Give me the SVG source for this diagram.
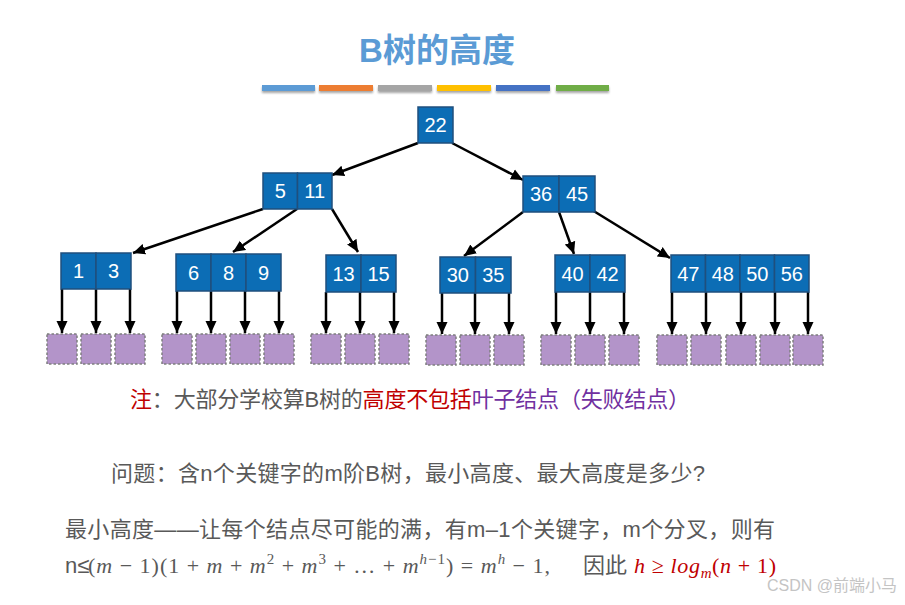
<svg xmlns="http://www.w3.org/2000/svg" width="905" height="605" viewBox="0 0 905 605">
<style>
.cell{fill:#0c6db5;stroke:#1f4f7d;stroke-width:1.5}
.key{font-family:"Liberation Sans",Arial,sans-serif;font-size:20px;fill:#ffffff;text-anchor:middle}
.leaf{fill:#b394c9;stroke:#7f7f7f;stroke-width:1.5;stroke-dasharray:2.5 2}
.edge{stroke:#000;stroke-width:2.5;fill:none;marker-end:url(#ah)}
.txt{font-family:"Liberation Sans","Noto Sans CJK SC",sans-serif;font-size:22px;fill:#595959}
.math{font-family:"Liberation Serif","Times New Roman",serif;font-size:22px;fill:#595959}
.i{font-style:italic}
.sup{font-size:15px}
.red{fill:#c00000}
.purple{fill:#7030a0}
</style>
<defs>
<marker id="ah" markerUnits="userSpaceOnUse" markerWidth="12" markerHeight="12" viewBox="0 0 12 12" refX="12" refY="6" orient="auto">
<path d="M0,0.5 L12,6 L0,11.5 z" fill="#000"/>
</marker>
<filter id="sh" x="-10%" y="-50%" width="120%" height="250%">
<feDropShadow dx="0" dy="2" stdDeviation="1" flood-color="#000" flood-opacity="0.35"/>
</filter>
</defs>

<g id="title">
<text x="437" y="62" text-anchor="middle" font-family="'Liberation Sans','Noto Sans CJK SC',sans-serif" font-size="33" font-weight="bold" fill="#5b9bd5">B树的高度</text>
<g filter="url(#sh)">
<rect x="262" y="85" width="53" height="6" fill="#5b9bd5"/>
<rect x="319" y="85" width="54" height="6" fill="#ed7d31"/>
<rect x="378" y="85" width="54" height="6" fill="#a5a5a5"/>
<rect x="437" y="85" width="54" height="6" fill="#ffc000"/>
<rect x="496" y="85" width="54" height="6" fill="#4472c4"/>
<rect x="556" y="85" width="53" height="6" fill="#70ad47"/>
</g>
</g>

<g id="connectors">
<line class="edge" x1="418" y1="143" x2="332" y2="175"/>
<line class="edge" x1="452" y1="143" x2="523" y2="180"/>
<line class="edge" x1="263" y1="209" x2="133" y2="253"/>
<line class="edge" x1="297" y1="209" x2="233" y2="252"/>
<line class="edge" x1="332" y1="209" x2="358" y2="252"/>
<line class="edge" x1="523" y1="212" x2="464" y2="256"/>
<line class="edge" x1="559" y1="212" x2="574" y2="254"/>
<line class="edge" x1="592" y1="210" x2="670" y2="258"/>
<line class="edge" x1="62" y1="289" x2="62" y2="333"/>
<line class="edge" x1="96" y1="289" x2="96" y2="333"/>
<line class="edge" x1="130" y1="289" x2="130" y2="333"/>
<line class="edge" x1="177" y1="291" x2="177" y2="333"/>
<line class="edge" x1="211" y1="291" x2="211" y2="333"/>
<line class="edge" x1="245" y1="291" x2="245" y2="333"/>
<line class="edge" x1="279" y1="291" x2="279" y2="333"/>
<line class="edge" x1="326" y1="292" x2="326" y2="333"/>
<line class="edge" x1="360" y1="292" x2="360" y2="333"/>
<line class="edge" x1="394" y1="292" x2="394" y2="333"/>
<line class="edge" x1="442" y1="293" x2="442" y2="334"/>
<line class="edge" x1="475" y1="293" x2="475" y2="334"/>
<line class="edge" x1="509" y1="293" x2="509" y2="334"/>
<line class="edge" x1="556" y1="292" x2="556" y2="334"/>
<line class="edge" x1="590" y1="292" x2="590" y2="334"/>
<line class="edge" x1="624" y1="292" x2="624" y2="334"/>
<line class="edge" x1="672" y1="292" x2="672" y2="334"/>
<line class="edge" x1="706" y1="292" x2="706" y2="334"/>
<line class="edge" x1="741" y1="292" x2="741" y2="334"/>
<line class="edge" x1="775" y1="292" x2="775" y2="334"/>
<line class="edge" x1="808" y1="292" x2="808" y2="334"/>
</g>

<g id="n22"><rect class="cell" x="418" y="107" width="35" height="36"/><text class="key" x="435.5" y="132">22</text></g>
<g id="n5_11">
<rect class="cell" x="263" y="173" width="34.5" height="36"/><text class="key" x="280.25" y="198">5</text>
<rect class="cell" x="297.5" y="173" width="34.5" height="36"/><text class="key" x="314.75" y="198">11</text>
</g>
<g id="n36_45">
<rect class="cell" x="523" y="176" width="36" height="36"/><text class="key" x="541" y="201">36</text>
<rect class="cell" x="559" y="176" width="36" height="36"/><text class="key" x="577" y="201">45</text>
</g>
<g id="n1_3">
<rect class="cell" x="61" y="253" width="35" height="36"/><text class="key" x="78.5" y="278">1</text>
<rect class="cell" x="96" y="253" width="35" height="36"/><text class="key" x="113.5" y="278">3</text>
</g>
<g id="n6_8_9">
<rect class="cell" x="176" y="254" width="35" height="37"/><text class="key" x="193.5" y="280">6</text>
<rect class="cell" x="211" y="254" width="35" height="37"/><text class="key" x="228.5" y="280">8</text>
<rect class="cell" x="246" y="254" width="35" height="37"/><text class="key" x="263.5" y="280">9</text>
</g>
<g id="n13_15">
<rect class="cell" x="326" y="255" width="35" height="37"/><text class="key" x="343.5" y="281">13</text>
<rect class="cell" x="361" y="255" width="35" height="37"/><text class="key" x="378.5" y="281">15</text>
</g>
<g id="n30_35">
<rect class="cell" x="440" y="257" width="35.5" height="36"/><text class="key" x="457.75" y="282">30</text>
<rect class="cell" x="475.5" y="257" width="35.5" height="36"/><text class="key" x="493.25" y="282">35</text>
</g>
<g id="n40_42">
<rect class="cell" x="555" y="255" width="35" height="37"/><text class="key" x="572.5" y="281">40</text>
<rect class="cell" x="590" y="255" width="35" height="37"/><text class="key" x="607.5" y="281">42</text>
</g>
<g id="n47_56">
<rect class="cell" x="671" y="255" width="34.5" height="37"/><text class="key" x="688.25" y="281">47</text>
<rect class="cell" x="705.5" y="255" width="34.5" height="37"/><text class="key" x="722.75" y="281">48</text>
<rect class="cell" x="740" y="255" width="34.5" height="37"/><text class="key" x="757.25" y="281">50</text>
<rect class="cell" x="774.5" y="255" width="34.5" height="37"/><text class="key" x="791.75" y="281">56</text>
</g>

<g id="leaf1"><rect class="leaf" x="47" y="334" width="30" height="30"/></g>
<g id="leaf2"><rect class="leaf" x="81" y="334" width="30" height="30"/></g>
<g id="leaf3"><rect class="leaf" x="115" y="334" width="30" height="30"/></g>
<g id="leaf4"><rect class="leaf" x="162" y="334" width="30" height="30"/></g>
<g id="leaf5"><rect class="leaf" x="196" y="334" width="30" height="30"/></g>
<g id="leaf6"><rect class="leaf" x="230" y="334" width="30" height="30"/></g>
<g id="leaf7"><rect class="leaf" x="264" y="334" width="30" height="30"/></g>
<g id="leaf8"><rect class="leaf" x="311" y="334" width="30" height="30"/></g>
<g id="leaf9"><rect class="leaf" x="345" y="334" width="30" height="30"/></g>
<g id="leaf10"><rect class="leaf" x="379" y="334" width="30" height="30"/></g>
<g id="leaf11"><rect class="leaf" x="426" y="335" width="30" height="30"/></g>
<g id="leaf12"><rect class="leaf" x="460" y="335" width="30" height="30"/></g>
<g id="leaf13"><rect class="leaf" x="494" y="335" width="30" height="30"/></g>
<g id="leaf14"><rect class="leaf" x="541" y="335" width="30" height="30"/></g>
<g id="leaf15"><rect class="leaf" x="575" y="335" width="30" height="30"/></g>
<g id="leaf16"><rect class="leaf" x="609" y="335" width="30" height="30"/></g>
<g id="leaf17"><rect class="leaf" x="657" y="335" width="30" height="30"/></g>
<g id="leaf18"><rect class="leaf" x="691" y="335" width="30" height="30"/></g>
<g id="leaf19"><rect class="leaf" x="726" y="335" width="30" height="30"/></g>
<g id="leaf20"><rect class="leaf" x="760" y="335" width="30" height="30"/></g>
<g id="leaf21"><rect class="leaf" x="793" y="335" width="30" height="30"/></g>

<g id="notes">
<text class="txt" x="130" y="407" textLength="560" lengthAdjust="spacing"><tspan class="red">注</tspan>：大部分学校算B树的<tspan class="red">高度不包括</tspan><tspan class="purple">叶子结点（失败结点）</tspan></text>
<text class="txt" x="111" y="481" textLength="594" lengthAdjust="spacing">问题：含n个关键字的m阶B树，最小高度、最大高度是多少?</text>
<text class="txt" x="65" y="537" textLength="710" lengthAdjust="spacing">最小高度——让每个结点尽可能的满，有m–1个关键字，m个分叉，则有</text>
<text class="txt" x="65" y="573">n≤</text>
<text class="math" x="88" y="573" textLength="462" lengthAdjust="spacing">(<tspan class="i">m</tspan> − 1)(1 + <tspan class="i">m</tspan> + <tspan class="i">m</tspan><tspan class="sup" dy="-9">2</tspan><tspan dy="9"> + </tspan><tspan class="i">m</tspan><tspan class="sup" dy="-9">3</tspan><tspan dy="9"> + … + </tspan><tspan class="i">m</tspan><tspan class="sup i" dy="-9">h</tspan><tspan class="sup">−1</tspan><tspan dy="9">) = </tspan><tspan class="i">m</tspan><tspan class="sup i" dy="-9">h</tspan><tspan dy="9"> − 1,</tspan></text>
<text class="txt" x="583" y="573">因此</text>
<text class="math red" x="634" y="573" textLength="142" lengthAdjust="spacing"><tspan class="i">h</tspan> ≥ <tspan class="i">log</tspan><tspan class="i sup" dy="5">m</tspan><tspan dy="-5">(</tspan><tspan class="i">n</tspan> + 1)</text>
<text x="767" y="591" font-family="'Liberation Sans','Noto Sans CJK SC',sans-serif" font-size="16" fill="#c4c4c4">CSDN @前端小马</text>
</g>
</svg>
